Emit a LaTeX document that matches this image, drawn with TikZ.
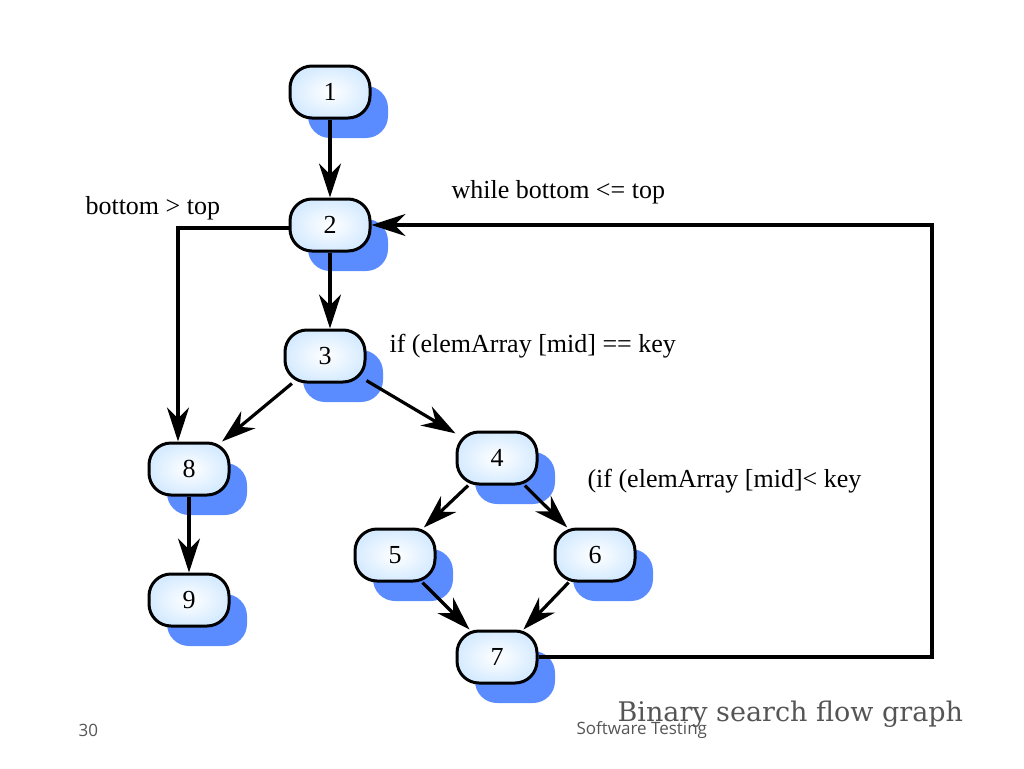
\documentclass[tikz,border=0pt]{standalone}
\usepackage{fontspec}
\setmainfont{Liberation Serif}
\newfontfamily\sansf{Open Sans}
\newfontfamily\titlef{DejaVu Serif}
\usetikzlibrary{arrows.meta,shadows}
\definecolor{shadowblue}{RGB}{90,140,255}
\definecolor{lightfill}{RGB}{214,235,255}
\definecolor{grayt}{RGB}{85,85,85}
\begin{document}
\begin{tikzpicture}[x=1pt,y=-1pt,
  vnode/.style={draw=black, line width=3pt, rounded corners=22pt, minimum width=80pt, minimum height=52pt,
    inner color=white, outer color=lightfill, font=\fontsize{26}{28}\selectfont,
    drop shadow={shadow xshift=18pt, shadow yshift=-20pt, fill=shadowblue, opacity=1}},
  edge/.style={line width=3.2pt, -{Stealth[length=34pt,width=22pt,inset=11pt]}},
  lbl/.style={font=\fontsize{26}{28}\selectfont, anchor=west}]
\useasboundingbox (0,0) rectangle (1024,768);
\node[vnode] (n1) at (330,92) {1};
\node[vnode] (n2) at (330,225) {2};
\node[vnode] (n3) at (325,356) {3};
\node[vnode] (n8) at (189,469) {8};
\node[vnode] (n9) at (189,600) {9};
\node[vnode] (n4) at (497,458) {4};
\node[vnode] (n5) at (395,555) {5};
\node[vnode] (n6) at (595,555) {6};
\node[vnode] (n7) at (497,657) {7};
\coordinate (c1) at (178,228);
\coordinate (c2) at (932,657);
\coordinate (c3) at (932,225);
\draw[edge] (n1) -- (n2);
\draw[edge] (n2.south) -- (n2.south |- n3.north);
\draw[edge] (n2.west |- c1) -- (c1) -- (c1 |- n8.north);
\draw[edge] (n3) -- (n8);
\draw[edge] (n3) -- (n4);
\draw[edge] (n4) -- (n5);
\draw[edge] (n4) -- (n6);
\draw[edge] (n5) -- (n7);
\draw[edge] (n6) -- (n7);
\draw[edge] (n8) -- (n9);
\draw[edge] (n7.east) -- (c2) -- (c3) -- (n2.east);
\node[lbl] (l1) at (82,208) {bottom > top};
\node[lbl] (l2) at (448,192) {while bottom <= top};
\node[lbl] (l3) at (386,346) {if (elemArray [mid] == key};
\node[lbl] (l4) at (584,481) {(if (elemArray [mid]< key};
\node[anchor=west, text=grayt, font=\titlef\fontsize{27}{30}\selectfont] (t) at (614,714) {Binary search flow graph};
\node[anchor=west, text=grayt, font=\sansf\fontsize{17}{20}\selectfont] (st) at (573,730) {Software Testing};
\node[anchor=west, text=grayt, font=\sansf\fontsize{17}{20}\selectfont] (pg) at (75,730) {30};
\end{tikzpicture}
\end{document}
